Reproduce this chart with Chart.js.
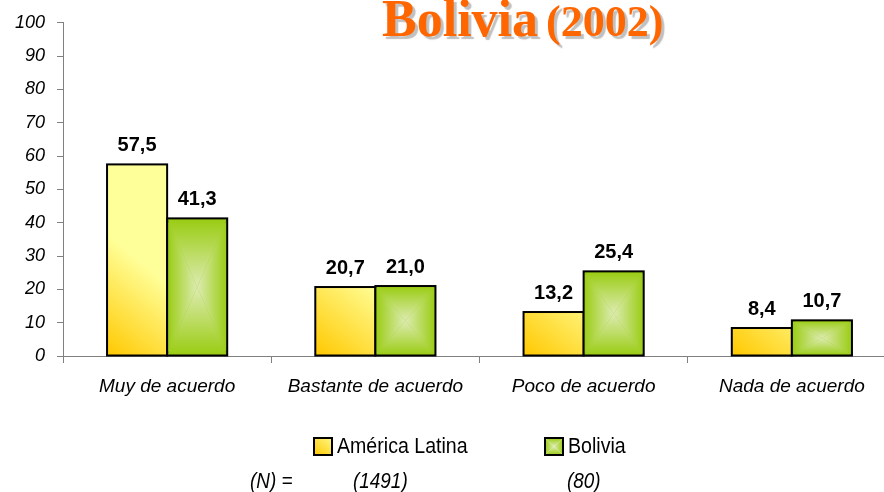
<!DOCTYPE html>
<html>
<head>
<meta charset="utf-8">
<script src="https://cdn.jsdelivr.net/npm/chart.js@4.4.1/dist/chart.umd.min.js"></script>
<style>
  html, body { margin: 0; padding: 0; background: #fff; overflow: hidden; }
  #wrap { width: 900px; height: 492px; }
</style>
</head>
<body>
<div id="wrap"><canvas id="barChart" width="900" height="492"></canvas></div>
<script>
// datos
const categorias = ['Muy de acuerdo', 'Bastante de acuerdo', 'Poco de acuerdo', 'Nada de acuerdo'];
const americaLatina = [57.5, 20.7, 13.2, 8.4];
const bolivia = [41.3, 21.0, 25.4, 10.7];
const series = ['América Latina', 'Bolivia'];
const muestras = ['(1491)', '(80)'];
const tituloPais = 'Bolivia';
const tituloAnio = '(2002)';

const sans = '"Liberation Sans", Arial, sans-serif';

// relleno degradado amarillo (diagonal) y verde (rectangular desde el centro)
function fillYellow(ctx, x0, y0, w, h) {
    const g = ctx.createLinearGradient(x0, y0 + h, x0 + w, y0 + h - w * 1.2);
    g.addColorStop(0, '#FFC800');
    g.addColorStop(1, '#FFFF99');
    ctx.fillStyle = g;
    ctx.fillRect(x0, y0, w, h);
}

function fillGreen(ctx, x0, y0, w, h) {
    const cx = x0 + w / 2, cy = y0 + h / 2;
    const edge = '#99CC11', center = '#DDEBB2';
    const tris = [
        [[x0, y0], [x0 + w, y0], [cx, y0], [cx, cy]],
        [[x0, y0 + h], [x0 + w, y0 + h], [cx, y0 + h], [cx, cy]],
        [[x0, y0], [x0, y0 + h], [x0, cy], [cx, cy]],
        [[x0 + w, y0], [x0 + w, y0 + h], [x0 + w, cy], [cx, cy]]
    ];
    tris.forEach(t => {
        const g = ctx.createLinearGradient(t[2][0], t[2][1], t[3][0], t[3][1]);
        g.addColorStop(0, edge);
        g.addColorStop(1, center);
        ctx.fillStyle = g;
        ctx.beginPath();
        ctx.moveTo(t[0][0], t[0][1]);
        ctx.lineTo(t[1][0], t[1][1]);
        ctx.lineTo(cx, cy);
        ctx.closePath();
        ctx.fill();
    });
}

const fills = [fillYellow, fillGreen];

// texto estrecho (la fuente original es condensada)
function narrowText(ctx, txt, x, y, sx) {
    ctx.save();
    ctx.translate(x, y);
    ctx.scale(sx, 1);
    ctx.fillText(txt, 0, 0);
    ctx.restore();
}

const barStyle = {
    id: 'barStyle',
    afterDatasetsDraw(chart) {
        const ctx = chart.ctx;
        ctx.save();
        chart.data.datasets.forEach((ds, i) => {
            chart.getDatasetMeta(i).data.forEach((el, j) => {
                const p = el.getProps(['x', 'y', 'base', 'width'], true);
                const x0 = p.x - p.width / 2, y0 = p.y, h = p.base - p.y;
                fills[i](ctx, x0, y0, p.width, h);
                ctx.lineWidth = 2;
                ctx.strokeStyle = '#000';
                ctx.strokeRect(x0, y0, p.width, h);
                // etiqueta de valor
                ctx.fillStyle = '#000';
                ctx.font = 'bold 20px ' + sans;
                ctx.textAlign = 'center';
                ctx.textBaseline = 'alphabetic';
                ctx.fillText(ds.data[j].toFixed(1).replace('.', ','), p.x, p.y - 13);
            });
        });
        ctx.restore();
    }
};

const extras = {
    id: 'extras',
    afterDraw(chart) {
        const ctx = chart.ctx;
        ctx.save();
        // titulo
        ctx.fillStyle = '#FF6600';
        ctx.shadowColor = 'rgba(140,140,140,0.55)';
        ctx.shadowOffsetX = 3;
        ctx.shadowOffsetY = 3;
        ctx.shadowBlur = 1;
        ctx.textBaseline = 'alphabetic';
        ctx.textAlign = 'left';
        ctx.font = 'bold 52px "Liberation Serif", "Times New Roman", serif';
        ctx.fillText(tituloPais, 382, 36);
        const w = ctx.measureText(tituloPais).width;
        ctx.font = 'bold 44px "Liberation Serif", "Times New Roman", serif';
        ctx.fillText(tituloAnio, 382 + w + 8, 36);
        ctx.shadowColor = 'transparent';

        // leyenda
        const boxX = [314, 545];
        ctx.font = '22px ' + sans;
        ctx.textBaseline = 'middle';
        series.forEach((s, i) => {
            fills[i](ctx, boxX[i], 438, 18, 17);
            ctx.lineWidth = 2;
            ctx.strokeStyle = '#000';
            ctx.strokeRect(boxX[i], 438, 18, 17);
            ctx.fillStyle = '#000';
            narrowText(ctx, s, boxX[i] + 23, 447, 0.89);
        });

        // tamaños de muestra
        ctx.font = 'italic 22px ' + sans;
        narrowText(ctx, '(N) =', 250, 482, 0.86);
        const nX = [353, 567];
        muestras.forEach((m, i) => narrowText(ctx, m, nX[i], 482, 0.86));
        ctx.restore();
    }
};

new Chart(document.getElementById('barChart'), {
    type: 'bar',
    data: {
        labels: categorias,
        datasets: [
            { label: series[0], data: americaLatina, backgroundColor: '#FFFF99', borderColor: '#000', borderWidth: 2 },
            { label: series[1], data: bolivia, backgroundColor: '#99CC11', borderColor: '#000', borderWidth: 2 }
        ]
    },
    options: {
        responsive: false,
        animation: false,
        layout: { padding: { top: 22, right: 4, left: 0, bottom: 0 } },
        datasets: { bar: { categoryPercentage: 0.577, barPercentage: 1 } },
        plugins: { legend: { display: false }, tooltip: { enabled: false }, title: { display: false } },
        scales: {
            x: {
                afterFit(scale) { scale.height = 136; },
                grid: { offset: true, drawOnChartArea: false, tickLength: 7, tickColor: '#808080' },
                border: { color: '#808080', width: 1 },
                ticks: { color: '#000', padding: 12, font: { family: sans, size: 19, style: 'italic' } }
            },
            y: {
                min: 0, max: 100,
                afterFit(scale) { scale.width = 63; },
                grid: { drawOnChartArea: false, tickLength: 6, tickColor: '#808080' },
                border: { color: '#808080', width: 1 },
                ticks: { stepSize: 10, color: '#000', padding: 12, font: { family: sans, size: 18, style: 'italic' } }
            }
        }
    },
    plugins: [barStyle, extras]
});
</script>
</body>
</html>
